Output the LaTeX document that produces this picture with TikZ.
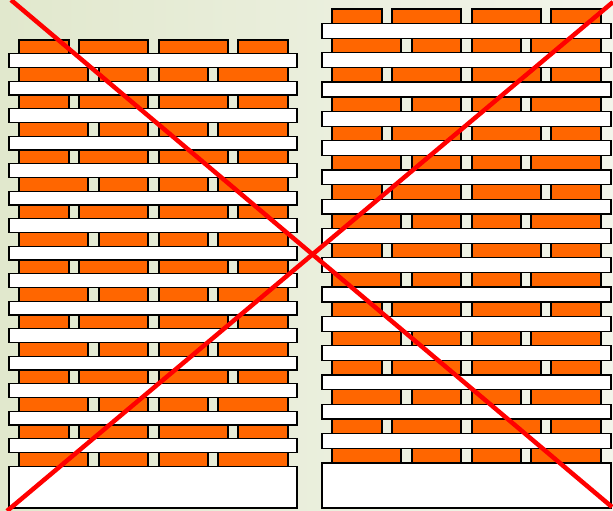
\documentclass[tikz,border=0pt]{standalone}
\usepackage{tikz}
\usetikzlibrary{calc}
\definecolor{brickorange}{HTML}{FF6600}
\definecolor{bgleft}{HTML}{E1E8CD}
\definecolor{bgright}{HTML}{F3F5EB}
\definecolor{crossred}{HTML}{FF0000}

\begin{document}
\begin{tikzpicture}[x=1pt,y=-1pt,
  brick/.style={draw=black, line width=1.3pt, fill=brickorange},
  board/.style={draw=black, line width=1.3pt, fill=white},
  cross/.style={crossred, line width=4.5pt}]
  % Background
  \shade[left color=bgleft, right color=bgright] (0,0) rectangle (613,511);
  \useasboundingbox (0,0) rectangle (613,511);

  % Left stack: bricks in staggered rows
  \foreach \k in {0,...,7} {
    \foreach \a/\b in {19/69,79/148,159/228,238/288}
      \draw[brick] (\a,40+55*\k) rectangle (\b,53.75+55*\k);
    \foreach \a/\b in {19/88,99/148,159/208,218/288}
      \draw[brick] (\a,67.5+55*\k) rectangle (\b,81.25+55*\k);
  }
  % Left stack: boards and base
  \foreach \j in {0,...,14}
    \draw[board] (9,53.75+27.5*\j) rectangle (297,67.5+27.5*\j);
  \draw[board] (9,466.25) rectangle (297,508);

  % Right stack: bricks in staggered rows
  \foreach \k in {0,...,7} {
    \foreach \a/\b in {332/382,392/461,472/541,551/601}
      \draw[brick] (\a,9+58.57*\k) rectangle (\b,23.5+58.57*\k);
    \foreach \a/\b in {332/401,412/461,472/521,531/601}
      \draw[brick] (\a,38.3+58.57*\k) rectangle (\b,52.8+58.57*\k);
  }
  % Right stack: boards and base
  \foreach \j in {0,...,14}
    \draw[board] (322,23.5+29.29*\j) rectangle (611,38.3+29.29*\j);
  \draw[board] (322,463) rectangle (611,508);

  % Red cross
  \coordinate (tl) at (11,0);
  \coordinate (br) at (612,507);
  \coordinate (bl) at (7,511);
  \coordinate (tr) at (613,2);
  \draw[cross] (tl) -- (br);
  \draw[cross] (bl) -- (tr);
\end{tikzpicture}
\end{document}
